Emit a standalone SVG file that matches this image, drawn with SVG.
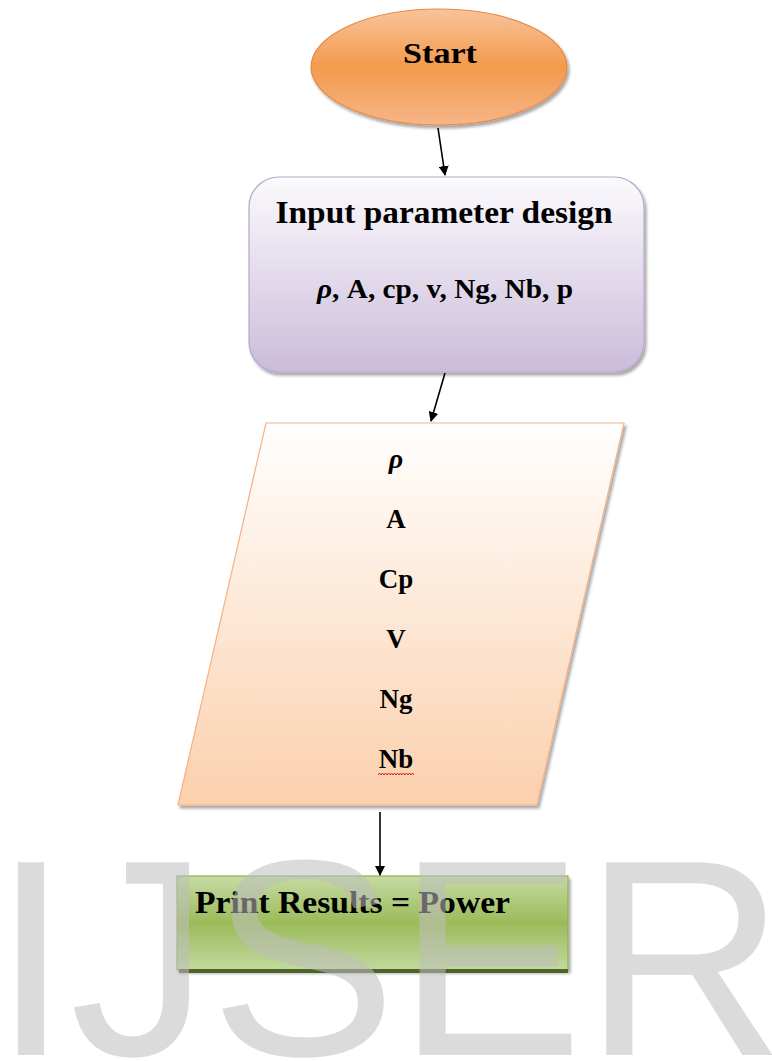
<svg xmlns="http://www.w3.org/2000/svg" width="772" height="1061" viewBox="0 0 772 1061">
<style>
.t{font-family:"Liberation Serif","Times New Roman",serif;font-weight:bold;fill:#000;text-anchor:middle}
.wm{font-family:"Liberation Sans",Arial,sans-serif;fill:#bdbdbd;fill-opacity:0.55}
.conn{stroke:#000;stroke-width:1.6;fill:none}
</style>
<defs>
<linearGradient id="gOrange" x1="0" y1="0" x2="0" y2="1">
<stop offset="0" stop-color="#f9c39c"/>
<stop offset="0.5" stop-color="#f39a4c"/>
<stop offset="1" stop-color="#f7b588"/>
</linearGradient>
<linearGradient id="gPurple" x1="0" y1="0" x2="0" y2="1">
<stop offset="0" stop-color="#fbfafd"/>
<stop offset="1" stop-color="#cbbcda"/>
</linearGradient>
<linearGradient id="gPeach" x1="0" y1="0" x2="0" y2="1">
<stop offset="0" stop-color="#ffffff"/>
<stop offset="1" stop-color="#fbd0ad"/>
</linearGradient>
<linearGradient id="gGreen" x1="0" y1="0" x2="0" y2="1">
<stop offset="0" stop-color="#c6dba4"/>
<stop offset="0.5" stop-color="#9bbb59"/>
<stop offset="1" stop-color="#c3d9a0"/>
</linearGradient>
<filter id="sh" x="-10%" y="-10%" width="130%" height="130%">
<feDropShadow dx="2" dy="3" stdDeviation="1.5" flood-color="#000" flood-opacity="0.35"/>
</filter>
<marker id="ah" markerWidth="10" markerHeight="10" refX="9" refY="5" orient="auto" markerUnits="userSpaceOnUse">
<path d="M0,0 L10,5 L0,10 z" fill="#000"/>
</marker>
</defs>

<g id="start">
<ellipse cx="439" cy="67" rx="128" ry="58" fill="url(#gOrange)" stroke="#e48a47" stroke-width="1.2" filter="url(#sh)"/>
<text class="t" x="440" y="63" font-size="30" textLength="74" lengthAdjust="spacingAndGlyphs">Start</text>
</g>

<g id="input">
<rect x="249" y="177" width="395" height="195" rx="30" ry="30" fill="url(#gPurple)" stroke="#b7a7cf" stroke-width="1.2" filter="url(#sh)"/>
<text class="t" x="444" y="223" font-size="32" textLength="337" lengthAdjust="spacingAndGlyphs">Input parameter design</text>
<text class="t" x="445" y="298" font-size="28" textLength="256" lengthAdjust="spacingAndGlyphs"><tspan font-style="italic">ρ</tspan>, A, cp, v, Ng, Nb, p</text>
</g>

<g id="data">
<polygon points="266,423 624,423 537,805 178,805" fill="url(#gPeach)" stroke="#f4b183" stroke-width="1.2" filter="url(#sh)"/>
<text class="t" x="396" y="468" font-size="28" font-style="italic">ρ</text>
<text class="t" x="396" y="528" font-size="27">A</text>
<text class="t" x="396" y="588" font-size="27">Cp</text>
<text class="t" x="396" y="648" font-size="27">V</text>
<text class="t" x="396" y="708" font-size="27">Ng</text>
<text class="t" x="396" y="768" font-size="27">Nb</text>
<path d="M378,775 l1.5,-2 l1.5,2 l1.5,-2 l1.5,2 l1.5,-2 l1.5,2 l1.5,-2 l1.5,2 l1.5,-2 l1.5,2 l1.5,-2 l1.5,2 l1.5,-2 l1.5,2 l1.5,-2 l1.5,2 l1.5,-2 l1.5,2 l1.5,-2 l1.5,2 l1.5,-2 l1.5,2 l1.5,-2 l1.5,2" fill="none" stroke="#e02020" stroke-width="1"/>
</g>

<g id="output">
<rect x="177" y="876" width="391" height="94" fill="url(#gGreen)" stroke="#8db150" stroke-width="1.2" filter="url(#sh)"/>
<rect x="179" y="969" width="389" height="4" fill="#4f6228"/>
<text class="t" x="195" y="913" font-size="31" text-anchor="start" style="text-anchor:start" textLength="315" lengthAdjust="spacingAndGlyphs">Print Results = Power</text>
</g>

<g id="connectors">
<line class="conn" x1="438" y1="128" x2="445" y2="175" marker-end="url(#ah)"/>
<line class="conn" x1="445" y1="373" x2="431" y2="421" marker-end="url(#ah)"/>
<line class="conn" x1="380" y1="812" x2="380" y2="875" marker-end="url(#ah)"/>
</g>

<g id="watermark">
<text class="wm" x="-8" y="1055" font-size="280">IJSER</text>
</g>
</svg>
